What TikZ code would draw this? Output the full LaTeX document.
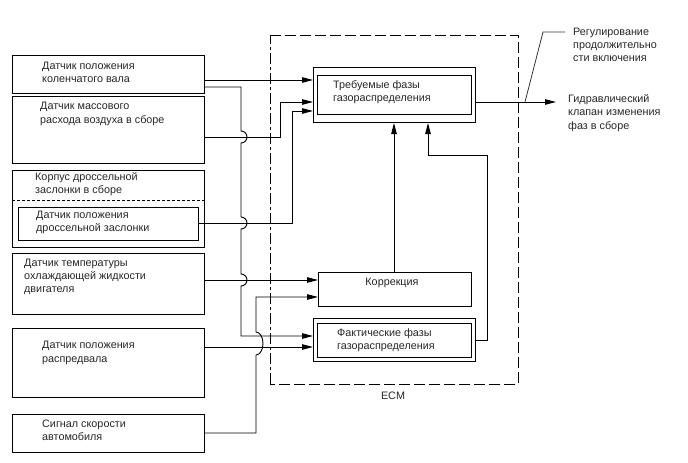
\documentclass[tikz,border=0pt]{standalone}
\usepackage{fontspec}
\setmainfont{Liberation Sans}
\usetikzlibrary{arrows.meta}
\begin{document}
\begin{tikzpicture}[x=1pt,y=-1pt,
  box/.style={draw, line width=1pt, rectangle, inner sep=0pt, anchor=north west},
  txt/.style={anchor=west, align=left, inner sep=0pt, text=black!85, font=\fontsize{10.8}{13.2}\selectfont},
  ctxt/.style={txt, anchor=center},
  wire/.style={line width=0.9pt},
  arr/.style={wire, -{Triangle[length=11pt,width=5.5pt]}},
  ecmdash/.style={line width=1pt, dash pattern=on 11pt off 4pt},
  ecmdashdot/.style={line width=1pt, dash pattern=on 11pt off 3pt on 3pt off 3pt},
]
\useasboundingbox (0,0) rectangle (688,463);

% left boxes
\node[box, minimum width=192pt, minimum height=38pt] (b1) at (12,55) {};
\node[box, minimum width=192pt, minimum height=67pt] (b2) at (12,96) {};
\node[box, minimum width=192pt, minimum height=77pt] (b3) at (12,170) {};
\node[box, minimum width=180pt, minimum height=33pt] (b3in) at (18,207) {};
\node[box, minimum width=192pt, minimum height=61pt] (b4) at (12,253) {};
\node[box, minimum width=192pt, minimum height=69pt] (b5) at (12,328) {};
\node[box, minimum width=192pt, minimum height=38pt] (b6) at (12,414) {};
\draw[line width=0.9pt, dash pattern=on 3pt off 2pt] (b3.west |- 0,200) -- (b3.east |- 0,200);

\node[txt] (t1) at (42,72.5) {Датчик положения\\коленчатого вала};
\node[txt] (t2) at (40,114) {Датчик массового\\расхода воздуха в сборе};
\node[txt] (t3) at (35,184.5) {Корпус дроссельной\\заслонки в сборе};
\node[txt] (t3in) at (36,222.5) {Датчик положения\\дроссельной заслонки};
\node[txt] (t4) at (24,277) {Датчик температуры\\охлаждающей жидкости\\двигателя};
\node[txt] (t5) at (42,353) {Датчик положения\\распредвала};
\node[txt] (t6) at (42,430.5) {Сигнал скорости\\автомобиля};

% ECM
\draw[ecmdash] (270,35) -- (518,35) -- (518,384) -- (270,384);
\draw[ecmdashdot] (270,384) -- (270,35);
\node[ctxt] (ecm) at (393,396) {ECM};

% inner blocks
\node[box, minimum width=162pt, minimum height=55pt] (req) at (313,67) {};
\node[box, minimum width=154pt, minimum height=39pt] (reqin) at (317,75) {};
\node[txt] (treq) at (333,92) {Требуемые фазы\\газораспределения};

\node[box, minimum width=153pt, minimum height=34pt] (kor) at (318,272) {};
\node[ctxt] (tkor) at (392,283) {Коррекция};

\node[box, minimum width=162pt, minimum height=43pt] (fak) at (313,318) {};
\node[box, minimum width=154pt, minimum height=34pt] (fakin) at (317,323) {};
\node[txt] (tfak) at (337,340) {Фактические фазы\\газораспределения};

% right texts
\node[txt] (reg) at (573,45) {Регулирование\\продолжительно\\сти включения};
\node[txt] (hyd) at (568,113) {Гидравлический\\клапан изменения\\фаз в сборе};
\coordinate (outend) at (556,102);
\coordinate (dstart) at (525,102);
\coordinate (dknee) at (543,32);
\coordinate (dend) at (565,32);

% wires into required phases
\draw[arr] (b1.east |- 0,80) -- (req.west |- 0,80);
\draw[arr] (b2.east |- 0,137) -- (280,137) -- (280,102) -- (req.west |- 0,102);
\draw[arr] (b3in.east |- 0,223) -- (292,223) -- (292,111) -- (req.west |- 0,111);
\draw[arr] (b4.east |- 0,280) -- (kor.west |- 0,280);
\draw[arr] (b5.east |- 0,347) -- (fak.west |- 0,347);

% crankshaft to actual phases with hops
\draw[arr] (b1.east |- 0,87) -- (241,87) -- (241,131)
  arc[start angle=90,end angle=-90,radius=6pt] -- (241,217)
  arc[start angle=90,end angle=-90,radius=6pt] -- (241,274)
  arc[start angle=90,end angle=-90,radius=6pt] -- (241,336) -- (fak.west |- 0,336);

% vehicle speed to correction
\draw[arr] (b6.east |- 0,433) -- (256,433) -- (256,355)
  arc[start angle=-90,end angle=90,x radius=7pt,y radius=11.5pt] -- (256,297) -- (kor.west |- 0,297);

% upward feedback
\draw[arr] (kor.north -| 394,0) -- (req.south -| 394,0);
\draw[arr] (fak.east |- 0,340) -- (487,340) -- (487,155) -- (428,155) -- (req.south -| 428,0);

% output
\draw[arr] (req.east |- 0,102) -- (outend);
\draw[line width=0.8pt, black!80] (dstart) -- (dknee) -- (dend);
\end{tikzpicture}
\end{document}
